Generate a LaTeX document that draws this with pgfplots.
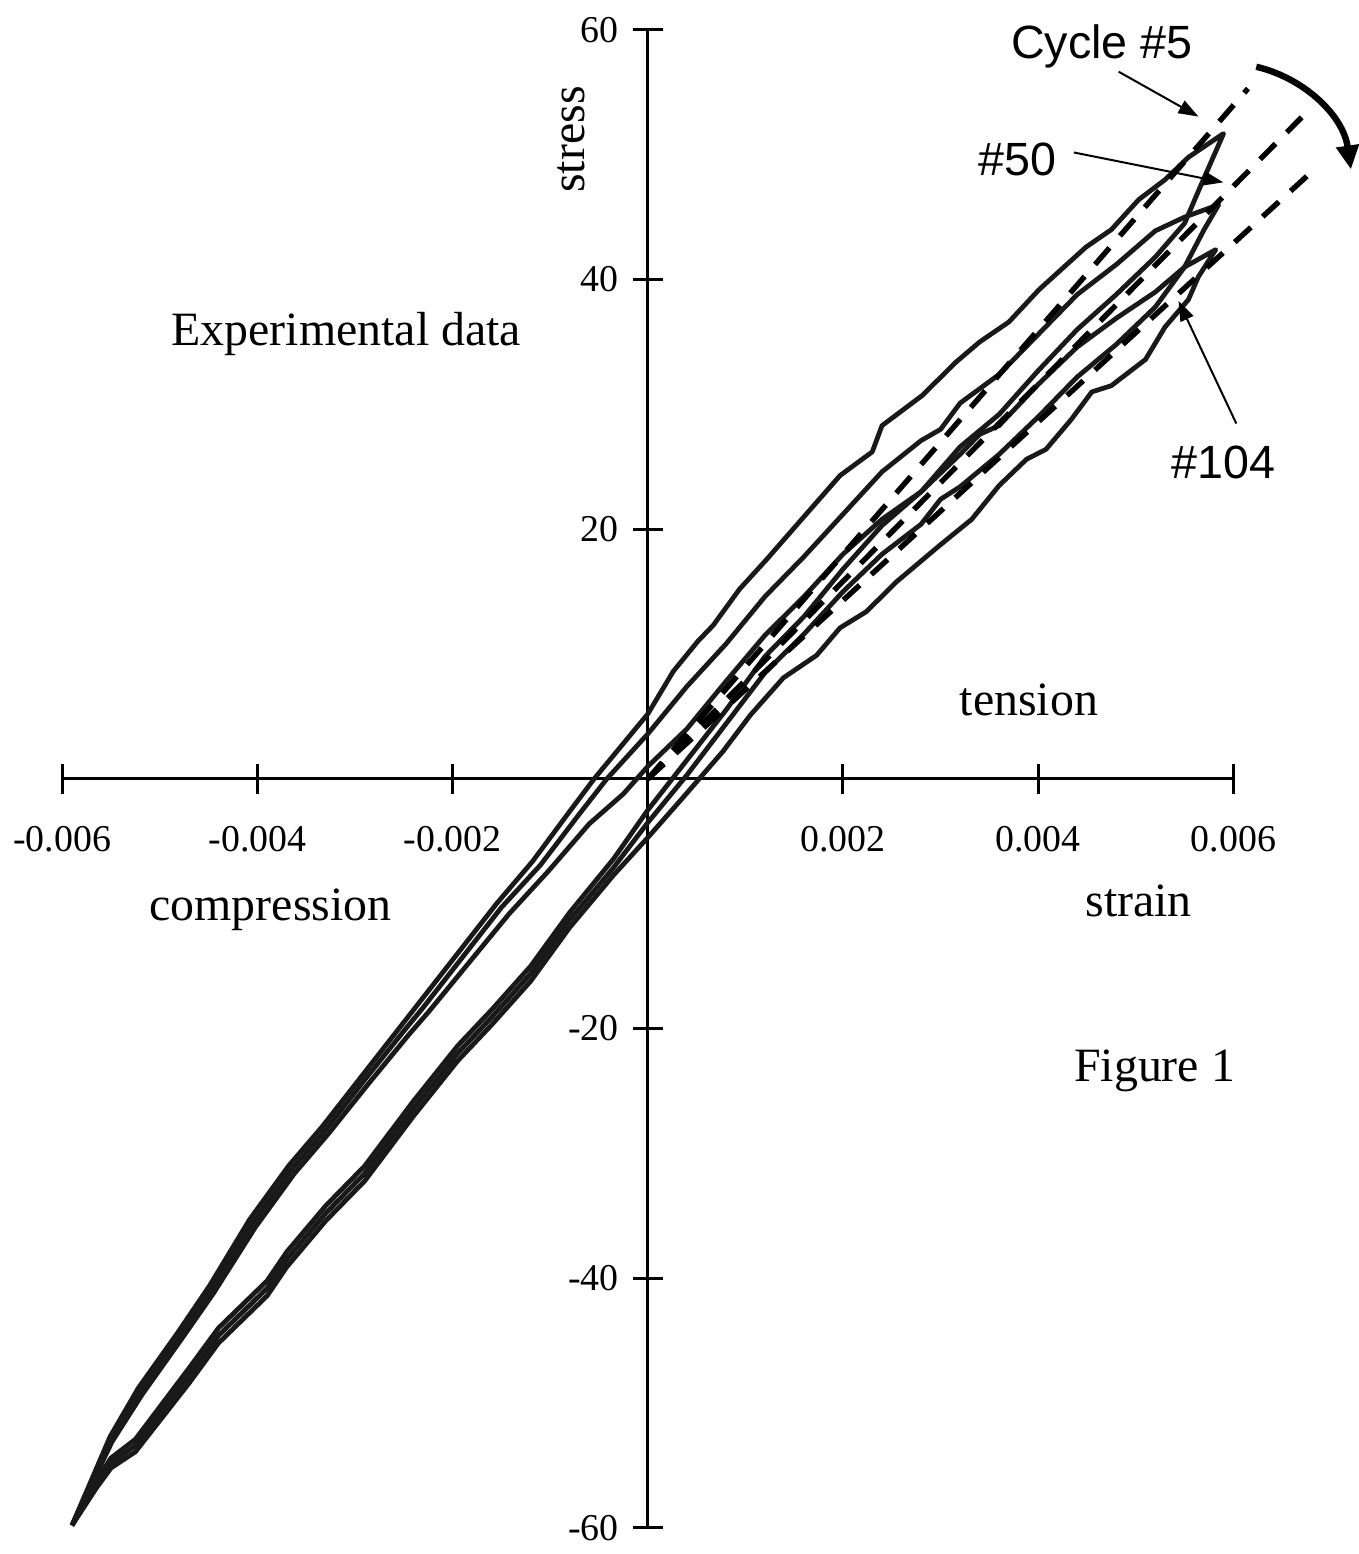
\documentclass[border=0pt]{standalone}
\usepackage{fontspec}
\setmainfont{Liberation Serif}
\newfontfamily\arialf{Liberation Sans}
\usepackage{pgfplots}
\pgfplotsset{compat=1.18}
\usetikzlibrary{arrows.meta}
\pgfplotsset{loopline/.style={black!90, line width=1.2pt, line join=round, mark=none},
  fitline/.style={black, line width=1.35pt, dash pattern=on 5.5pt off 4pt, mark=none}}
\begin{document}
\begin{tikzpicture}
\begin{scope}[x=0.25pt,y=-0.25pt,shift={(-15pt,383.25pt)}]
\path[use as bounding box] (0,0) rectangle (1355,1554);
\end{scope}
\begin{axis}[at={(0,0)}, anchor=south west, scale only axis,
  width=293.75pt, height=375.75pt,
  xmin=-0.006, xmax=0.006, ymin=-60, ymax=60,
  axis lines=middle, axis line style={-, line width=0.75pt},
  clip=false, scaled x ticks=false, scaled y ticks=false,
  xtick={-0.006,-0.004,-0.002,0.002,0.004,0.006},
  xticklabels={-0.006,-0.004,-0.002,0.002,0.004,0.006},
  ytick={-60,-40,-20,20,40,60},
  yticklabels={-60,-40,-20,20,40,60},
  tick align=center, major tick length=7.5pt,
  tick style={line width=0.75pt, black},
  xticklabel style={font=\fontsize{9.5}{9.5}\selectfont, anchor=north, yshift=-4.5pt},
  yticklabel style={font=\fontsize{9.5}{9.5}\selectfont, anchor=east, xshift=0pt},
]
% Cycle 5
\addplot[loopline] coordinates {
(-0.0059,-59.8) (-0.00565,-56.2) (-0.0055,-54.4) (-0.00525,-52.9) (-0.0047,-47.2) (-0.0044,-44.0) (-0.0039,-40.2) (-0.0037,-37.9) (-0.0033,-34.2) (-0.0029,-31.0) (-0.0024,-25.8) (-0.00195,-21.4) (-0.0016,-18.5) (-0.0012,-15.0) (-0.0008,-10.7) (-0.00035,-6.4) (0,-2.5)
(0.0004,1.5) (0.0008,5.5) (0.0012,9.8) (0.0016,13.0) (0.002,16.8) (0.0024,20.3) (0.0028,23.0) (0.0032,26.6) (0.0036,29.2) (0.004,32.7) (0.0044,36.0) (0.0048,38.8) (0.0052,41.8) (0.0055,44.5) (0.00567,47.6) (0.0059,51.7)
(0.00554,49.8) (0.0053,48.0) (0.00503,46.4) (0.00475,44.0) (0.00449,42.6) (0.00401,39.2) (0.0037,36.6) (0.0034,35.0) (0.00316,33.4) (0.00281,30.7) (0.0024,28.3) (0.0023,26.2) (0.00197,24.3) (0.0016,21.0) (0.00122,17.6) (0.00094,15.2) (0.00067,12.3) (0.00051,11.0) (0.00026,8.6) (0,5.2)
(-0.00055,0.0) (-0.0008,-2.6) (-0.00118,-6.6) (-0.00155,-10.0) (-0.00195,-14.0) (-0.00235,-18.0) (-0.00255,-20.0) (-0.00293,-23.8) (-0.00333,-27.8) (-0.00368,-31.0) (-0.00408,-35.3) (-0.00449,-40.6) (-0.00482,-44.4) (-0.00522,-48.8) (-0.00551,-52.7) (-0.0059,-59.8)
};
% Cycle 50
\addplot[loopline] coordinates {
(-0.0059,-59.8) (-0.00565,-56.5) (-0.0055,-54.8) (-0.00525,-53.4) (-0.0047,-47.8) (-0.0044,-44.6) (-0.0039,-40.8) (-0.0037,-38.5) (-0.0033,-34.8) (-0.0029,-31.6) (-0.0024,-26.4) (-0.00195,-22.0) (-0.0016,-19.1) (-0.0012,-15.6) (-0.0008,-11.3) (-0.00035,-7.1) (0,-3.5)
(0.0004,0.3) (0.0008,4.4) (0.0012,8.5) (0.0016,11.6) (0.002,15.0) (0.0024,18.0) (0.0028,20.4) (0.003,22.4) (0.0032,23.4) (0.0036,26.0) (0.004,29.0) (0.0044,32.2) (0.0048,34.8) (0.0052,37.8) (0.0055,41.0) (0.0057,44.0) (0.00585,46.0)
(0.0055,45.0) (0.0052,43.9) (0.0048,41.2) (0.0044,38.8) (0.004,35.6) (0.0036,32.4) (0.0032,30.1) (0.003,28.0) (0.0028,27.1) (0.0024,24.6) (0.002,21.2) (0.0016,17.8) (0.0012,14.6) (0.0008,10.8) (0.0004,7.4) (0,3.6)
(-0.00042,0.0) (-0.0007,-2.8) (-0.0011,-6.9) (-0.0015,-10.3) (-0.0019,-14.3) (-0.0023,-18.3) (-0.0025,-20.2) (-0.0029,-24.1) (-0.0033,-28.1) (-0.00365,-31.3) (-0.00405,-35.6) (-0.00447,-40.9) (-0.0048,-44.6) (-0.0052,-49.0) (-0.0055,-52.9) (-0.0059,-59.8)
};
% Cycle 104
\addplot[loopline] coordinates {
(-0.0059,-59.8) (-0.00565,-56.8) (-0.0055,-55.2) (-0.00525,-53.9) (-0.0047,-48.4) (-0.0044,-45.2) (-0.0039,-41.4) (-0.0037,-39.1) (-0.0033,-35.4) (-0.0029,-32.2) (-0.0024,-27.0) (-0.00195,-22.6) (-0.0016,-19.7) (-0.0012,-16.2) (-0.0008,-11.9) (-0.00035,-7.7) (0,-4.7)
(0.00036,-1.5) (0.00077,2.2) (0.00105,5.1) (0.00139,8.1) (0.00173,9.9) (0.00197,12.1) (0.00224,13.4) (0.00255,15.8) (0.00299,18.7) (0.00332,20.8) (0.0036,23.5) (0.00388,25.6) (0.00408,26.4) (0.00434,28.8) (0.00455,31.0) (0.00475,31.5) (0.0051,33.6) (0.0053,36.2) (0.00554,38.4) (0.00564,40.2) (0.00582,42.4)
(0.0055,41.0) (0.0052,39.0) (0.0048,36.9) (0.0044,34.6) (0.004,31.6) (0.0036,28.3) (0.0034,27.6) (0.0032,26.0) (0.0028,23.0) (0.0024,20.8) (0.002,18.0) (0.0016,14.6) (0.0012,11.5) (0.0008,7.8) (0.0004,4.0) (0,1.0)
(-0.00025,-1.2) (-0.0006,-3.6) (-0.00102,-7.4) (-0.00142,-10.8) (-0.00183,-14.7) (-0.00225,-18.7) (-0.00245,-20.5) (-0.00286,-24.4) (-0.00327,-28.4) (-0.00362,-31.6) (-0.00402,-35.9) (-0.00445,-41.2) (-0.00478,-44.9) (-0.00518,-49.3) (-0.00549,-53.1) (-0.0059,-59.8)
};
% fitted secant lines
\addplot[fitline] coordinates {(0,0) (0.00615,55.3)};
\addplot[fitline] coordinates {(0,0) (0.0067,53.0)};
\addplot[fitline] coordinates {(0,0) (0.00684,48.9)};
\end{axis}
\begin{scope}[x=0.25pt,y=-0.25pt,shift={(-15pt,383.25pt)}]
\node[font=\fontsize{12}{12}\selectfont, rotate=90] at (571,140) {stress};
\node[font=\fontsize{12}{12}\selectfont] at (345,335) {Experimental data};
\node[font=\fontsize{12}{12}\selectfont] at (1030,702) {tension};
\node[font=\fontsize{12}{12}\selectfont] at (269,913) {compression};
\node[font=\fontsize{12}{12}\selectfont] at (1140,904) {strain};
\node[font=\fontsize{12}{12}\selectfont] at (1156,1074) {Figure 1};
\node[font=\arialf\fontsize{11.7}{11.7}\selectfont] at (1103,47) {Cycle \#5};
\node[font=\arialf\fontsize{11.7}{11.7}\selectfont] at (1018,160) {\#50};
\node[font=\arialf\fontsize{11.7}{11.7}\selectfont] at (1225,464) {\#104};
\draw[line width=0.5pt, -{Triangle[length=5pt,width=3.5pt]}] (1120,72) -- (1200,117);
\draw[line width=0.5pt, -{Triangle[length=5pt,width=3.5pt]}] (1075,153) -- (1225,183);
\draw[line width=0.5pt, -{Triangle[length=5pt,width=3.5pt]}] (1238,425) -- (1180,302);
\draw[line width=1.6pt, -{Triangle[length=6pt,width=5.5pt]}] (1258,67) .. controls (1305,78) and (1345,115) .. (1353,170);
\end{scope}
\end{tikzpicture}
\end{document}
